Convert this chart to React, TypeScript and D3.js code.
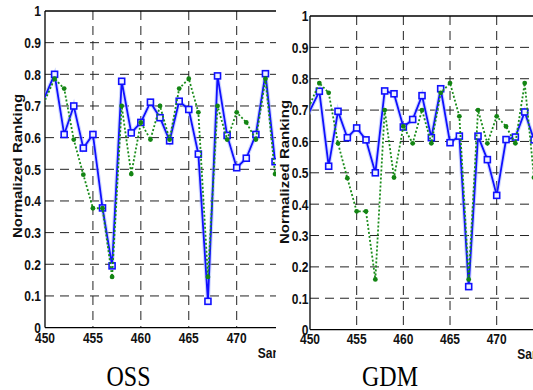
import * as d3 from "d3";
import { useEffect, useRef } from "react";

// sample index (449 sits just outside the axes, only its line segment shows)
const samples = [449, 451, 452, 453, 454, 455, 456, 457, 458, 459, 460, 461, 462, 463, 464, 465, 466, 467, 468, 469, 470, 471, 472, 473, 474];

// green dotted reference ranking (same in both panels)
const groundTruth = [0.65, 0.786, 0.755, 0.594, 0.483, 0.377, 0.377, 0.16, 0.7, 0.485, 0.648, 0.594, 0.7, 0.594, 0.755, 0.786, 0.68, 0.16, 0.7, 0.594, 0.68, 0.648, 0.594, 0.786, 0.485];

// blue ranking, OSS panel
const ossRanking = [0.66, 0.8, 0.61, 0.7, 0.567, 0.61, 0.378, 0.195, 0.778, 0.615, 0.648, 0.712, 0.663, 0.59, 0.715, 0.689, 0.548, 0.083, 0.795, 0.607, 0.505, 0.535, 0.61, 0.802, 0.524];

// blue ranking, GDM panel
const gdmRanking = [0.637, 0.76, 0.521, 0.696, 0.612, 0.643, 0.605, 0.5, 0.761, 0.752, 0.646, 0.67, 0.746, 0.612, 0.768, 0.596, 0.617, 0.137, 0.617, 0.542, 0.428, 0.606, 0.614, 0.694, 0.605];

const yTicks = [0, 0.1, 0.2, 0.3, 0.4, 0.5, 0.6, 0.7, 0.8, 0.9, 1];
const yTickLabels = ["0", "0.1", "0.2", "0.3", "0.4", "0.5", "0.6", "0.7", "0.8", "0.9", "1"];
const xTicks = [450, 455, 460, 465, 470];
const panelTitles = ["OSS", "GDM"];

type Panel = {
  id: string;
  title: string;
  values: number[];
  x450: number;
  x470: number;
  yBottom: number;
  yTop: number;
  right: number;
  labelGap: number;
  xLabelY: number;
  yTitleX: number;
  yTitleY: number;
  titleX: number;
};

const SANS = "'Liberation Sans', Arial, sans-serif";
const STRETCH = "scale(1,1.25)";

export default function App() {
  const ref = useRef<SVGSVGElement | null>(null);

  useEffect(() => {
    const svg = d3.select(ref.current);
    svg.selectAll("*").remove();

    const panels: Panel[] = [
      { id: "oss", title: panelTitles[0], values: ossRanking, x450: 45, x470: 236.7, yBottom: 327.6, yTop: 11, right: 276, labelGap: 4, xLabelY: 343, yTitleX: 22, yTitleY: 166, titleX: 128.5 },
      { id: "gdm", title: panelTitles[1], values: gdmRanking, x450: 310, x470: 496.7, yBottom: 329.6, yTop: 16, right: 533, labelGap: 1.5, xLabelY: 344, yTitleX: 289, yTitleY: 172, titleX: 390 },
    ];

    const defs = svg.append("defs");

    panels.forEach((p, i) => {
      const left = i === 0 ? 0 : 276;
      defs.append("clipPath").attr("id", `panel-${p.id}`)
        .append("rect").attr("x", left).attr("y", 0).attr("width", p.right - left).attr("height", 390);
      defs.append("clipPath").attr("id", `plot-${p.id}`)
        .append("rect").attr("x", p.x450).attr("y", p.yTop)
        .attr("width", p.right - p.x450).attr("height", p.yBottom - p.yTop);

      const g = svg.append("g").attr("clip-path", `url(#panel-${p.id})`);
      g.append("rect").attr("x", left).attr("y", 0).attr("width", p.right - left).attr("height", 390).attr("fill", "#fff");

      const x = d3.scaleLinear().domain([450, 470]).range([p.x450, p.x470]);
      const y = d3.scaleLinear().domain([0, 1]).range([p.yBottom, p.yTop]);

      // grid
      const grid = g.append("g").attr("stroke", "#222").attr("stroke-width", 1).attr("stroke-dasharray", "9,6");
      yTicks.slice(1, -1).forEach((t) => {
        grid.append("line").attr("x1", p.x450).attr("x2", p.right).attr("y1", y(t)).attr("y2", y(t));
      });
      xTicks.slice(1).forEach((t) => {
        grid.append("line").attr("x1", x(t)).attr("x2", x(t)).attr("y1", p.yTop).attr("y2", p.yBottom);
      });

      // axes box
      const box = g.append("g").attr("stroke", "#000").attr("stroke-width", 1.3);
      box.append("line").attr("x1", p.x450).attr("x2", p.x450).attr("y1", p.yTop).attr("y2", p.yBottom);
      box.append("line").attr("x1", p.x450).attr("x2", p.right).attr("y1", p.yBottom).attr("y2", p.yBottom);
      box.append("line").attr("x1", p.x450).attr("x2", p.right).attr("y1", p.yTop).attr("y2", p.yTop);

      const plot = g.append("g").attr("clip-path", `url(#plot-${p.id})`);
      const line = d3.line<number>().x((_, k) => x(samples[k])).y((v) => y(v));

      // blue series
      plot.append("path").datum(p.values).attr("d", line).attr("fill", "none")
        .attr("stroke", "#aebdff").attr("stroke-width", 4).attr("stroke-opacity", 0.6);
      plot.append("path").datum(p.values).attr("d", line).attr("fill", "none")
        .attr("stroke", "#1010ff").attr("stroke-width", 1.8);
      plot.selectAll("rect.sq").data(p.values).enter().append("rect")
        .attr("x", (_, k) => x(samples[k]) - 3).attr("y", (v) => y(v) - 3)
        .attr("width", 6).attr("height", 6)
        .attr("fill", "#eef2ff").attr("stroke", "#1010ff").attr("stroke-width", 1.6);

      // green series
      plot.append("path").datum(groundTruth).attr("d", line).attr("fill", "none")
        .attr("stroke", "#1a8c1a").attr("stroke-width", 1.8).attr("stroke-dasharray", "2,2");
      plot.selectAll("circle").data(groundTruth).enter().append("circle")
        .attr("cx", (_, k) => x(samples[k])).attr("cy", (v) => y(v)).attr("r", 2.4)
        .attr("fill", "#138513");

      // tick labels
      const txt = g.append("g").attr("font-family", SANS).attr("font-weight", "bold").attr("font-size", 12).attr("fill", "#111");
      yTicks.forEach((t, k) => {
        txt.append("text").attr("transform", `translate(${p.x450 - p.labelGap},${y(t)}) ${STRETCH}`)
          .attr("text-anchor", "end").attr("dy", "0.36em").text(yTickLabels[k]);
      });
      xTicks.forEach((t) => {
        txt.append("text").attr("transform", `translate(${x(t)},${p.xLabelY}) ${STRETCH}`)
          .attr("text-anchor", "middle").text(String(t));
      });
      txt.append("text").attr("transform", `translate(${x(472.2)},${p.xLabelY + 15}) ${STRETCH}`)
        .text("Sample Index");
      txt.append("text").attr("transform", `translate(${p.yTitleX},${p.yTitleY}) ${STRETCH} rotate(-90)`)
        .attr("text-anchor", "middle").text("Normalized Ranking");

      g.append("text").attr("transform", `translate(${p.titleX},386) scale(1,1.2)`)
        .attr("text-anchor", "middle").attr("font-family", "'Liberation Serif', 'Times New Roman', serif")
        .attr("font-size", 24).attr("fill", "#000").text(p.title);
    });
  }, []);

  return (
    <svg ref={ref} width={533} height={390}
      style={{ position: "absolute", left: 0, top: 0, display: "block", background: "#fff" }} />
  );
}
